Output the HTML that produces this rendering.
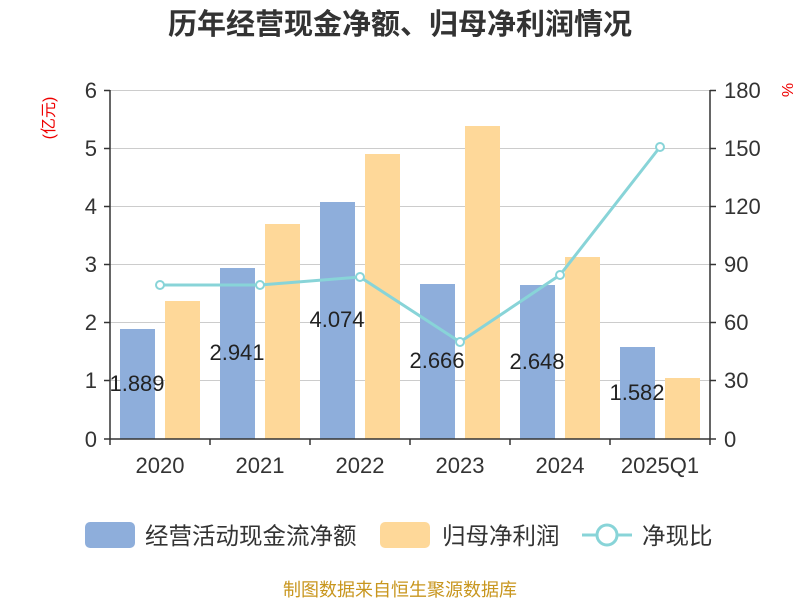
<!DOCTYPE html>
<html><head><meta charset="utf-8"><style>
body{margin:0;background:#fff;}
svg text{font-family:"Liberation Sans","Noto Sans CJK SC",sans-serif;}
</style></head><body>
<svg width="800" height="600" xmlns="http://www.w3.org/2000/svg">
<text x="400" y="34" text-anchor="middle" font-size="29" font-weight="bold" fill="#333">历年经营现金净额、归母净利润情况</text>
<g stroke="#ccc" stroke-width="1">
<line x1="110" y1="90.5" x2="710" y2="90.5"/>
<line x1="110" y1="148.5" x2="710" y2="148.5"/>
<line x1="110" y1="206.5" x2="710" y2="206.5"/>
<line x1="110" y1="264.5" x2="710" y2="264.5"/>
<line x1="110" y1="322.5" x2="710" y2="322.5"/>
<line x1="110" y1="380.5" x2="710" y2="380.5"/>
</g>
<g fill="#8eaedb">
<rect x="120" y="329" width="35" height="110"/>
<rect x="220" y="268" width="35" height="171"/>
<rect x="320" y="202" width="35" height="237"/>
<rect x="420" y="284" width="35" height="155"/>
<rect x="520" y="285" width="35" height="154"/>
<rect x="620" y="347" width="35" height="92"/>
</g>
<g fill="#fed899">
<rect x="165" y="301" width="35" height="138"/>
<rect x="265" y="224" width="35" height="215"/>
<rect x="365" y="154" width="35" height="285"/>
<rect x="465" y="126" width="35" height="313"/>
<rect x="565" y="257" width="35" height="182"/>
<rect x="665" y="378" width="35" height="61"/>
</g>
<g font-size="22" fill="#222" text-anchor="middle">
<text x="137" y="391">1.889</text>
<text x="237" y="360">2.941</text>
<text x="337" y="327">4.074</text>
<text x="437" y="368">2.666</text>
<text x="537" y="369">2.648</text>
<text x="637" y="400">1.582</text>
</g>
<polyline points="160,285 260,285 360,277 460,342 560,275 660,147" fill="none" stroke="#88d4d8" stroke-width="3"/>
<g fill="#fff" stroke="#88d4d8" stroke-width="2">
<circle cx="160" cy="285" r="4"/><circle cx="260" cy="285" r="4"/><circle cx="360" cy="277" r="4"/>
<circle cx="460" cy="342" r="4"/><circle cx="560" cy="275" r="4"/><circle cx="660" cy="147" r="4"/>
</g>
<g stroke="#333" stroke-width="1.5">
<line x1="110" y1="90" x2="110" y2="439"/>
<line x1="710" y1="90" x2="710" y2="439"/>
<line x1="104" y1="439" x2="716" y2="439"/>
<line x1="104" y1="90.5" x2="110" y2="90.5"/><line x1="104" y1="148.5" x2="110" y2="148.5"/><line x1="104" y1="206.5" x2="110" y2="206.5"/><line x1="104" y1="264.5" x2="110" y2="264.5"/><line x1="104" y1="322.5" x2="110" y2="322.5"/><line x1="104" y1="380.5" x2="110" y2="380.5"/>
<line x1="710" y1="90.5" x2="716" y2="90.5"/><line x1="710" y1="148.5" x2="716" y2="148.5"/><line x1="710" y1="206.5" x2="716" y2="206.5"/><line x1="710" y1="264.5" x2="716" y2="264.5"/><line x1="710" y1="322.5" x2="716" y2="322.5"/><line x1="710" y1="380.5" x2="716" y2="380.5"/>
<line x1="210" y1="439" x2="210" y2="445"/><line x1="310" y1="439" x2="310" y2="445"/><line x1="410" y1="439" x2="410" y2="445"/><line x1="510" y1="439" x2="510" y2="445"/><line x1="610" y1="439" x2="610" y2="445"/><line x1="110" y1="439" x2="110" y2="445"/><line x1="710" y1="439" x2="710" y2="445"/>
</g>
<g font-size="22" fill="#333" text-anchor="end">
<text x="97" y="98">6</text><text x="97" y="156">5</text><text x="97" y="214">4</text><text x="97" y="272">3</text><text x="97" y="330">2</text><text x="97" y="388">1</text><text x="97" y="447">0</text>
</g>
<g font-size="22" fill="#333" text-anchor="start">
<text x="724" y="98">180</text><text x="724" y="156">150</text><text x="724" y="214">120</text><text x="724" y="272">90</text><text x="724" y="330">60</text><text x="724" y="388">30</text><text x="724" y="447">0</text>
</g>
<g font-size="22" fill="#333" text-anchor="middle">
<text x="160" y="473">2020</text><text x="260" y="473">2021</text><text x="360" y="473">2022</text><text x="460" y="473">2023</text><text x="560" y="473">2024</text><text x="660" y="473">2025Q1</text>
</g>
<text transform="translate(54,118) rotate(-90)" font-size="16" fill="#e00" text-anchor="middle">(亿元)</text>
<text transform="translate(782,90) rotate(90)" font-size="16" fill="#e00" text-anchor="middle">%</text>
<rect x="85" y="522" width="50" height="26" rx="5" fill="#8eaedb"/>
<text x="145" y="544" font-size="23.5" fill="#333">经营活动现金流净额</text>
<rect x="380" y="522" width="50" height="26" rx="5" fill="#fed899"/>
<text x="442" y="544" font-size="23.5" fill="#333">归母净利润</text>
<line x1="582" y1="535" x2="632" y2="535" stroke="#88d4d8" stroke-width="3"/>
<circle cx="607" cy="535" r="10" fill="#fff" stroke="#88d4d8" stroke-width="3"/>
<text x="642" y="544" font-size="23.5" fill="#333">净现比</text>
<text x="400" y="596" font-size="18" fill="#c8961e" text-anchor="middle">制图数据来自恒生聚源数据库</text>
</svg>
</body></html>
